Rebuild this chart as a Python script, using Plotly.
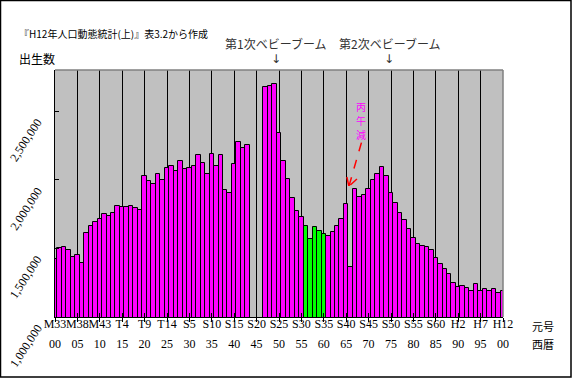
import plotly.graph_objects as go

# ---- data ----
years = list(range(1900, 2001))
births = [
    1421000, 1502000, 1511000, 1490000, 1440000, 1453000, 1394000, 1614000, 1663000, 1694000,  # 1900-09
    1713000, 1748000, 1738000, 1757000, 1808000, 1799000, 1805000, 1812000, 1792000, 1779000,  # 1910-19
    2026000, 1991000, 1969000, 2043000, 1999000, 2086000, 2104000, 2061000, 2136000, 2077000,  # 1920-29
    2085000, 2103000, 2183000, 2121000, 2044000, 2191000, 2102000, 2181000, 1928000, 1902000,  # 1930-39
    2116000, 2277000, 2234000, 2254000, None, None, None, 2679000, 2682000, 2697000,           # 1940-49
    2338000, 2138000, 2005000, 1868000, 1770000, 1731000, 1665000, 1567000, 1653000, 1626000,  # 1950-59
    1606000, 1589000, 1619000, 1660000, 1717000, 1824000, 1361000, 1936000, 1872000, 1890000,  # 1960-69
    1934000, 2001000, 2039000, 2092000, 2030000, 1901000, 1833000, 1755000, 1709000, 1643000,  # 1970-79
    1577000, 1529000, 1515000, 1509000, 1490000, 1432000, 1383000, 1347000, 1314000, 1247000,  # 1980-89
    1222000, 1223000, 1209000, 1188000, 1238000, 1187000, 1207000, 1192000, 1203000, 1178000,  # 1990-99
    1191000,                                                                                     # 2000
]
green_years = [1956, 1957, 1958, 1959, 1960]

tick_years = list(range(1900, 2001, 5))
era_labels = ["M33", "M38", "M43", "T4", "T9", "T14", "S5", "S10", "S15", "S20", "S25",
              "S30", "S35", "S40", "S45", "S50", "S55", "S60", "H2", "H7", "H12"]
year_labels = ["00", "05", "10", "15", "20", "25", "30", "35", "40", "45", "50",
               "55", "60", "65", "70", "75", "80", "85", "90", "95", "00"]
y_ticks = [1000000, 1500000, 2000000, 2500000]

# ---- figure ----
MAGENTA = "#FF00FF"
GREEN = "#00FF00"
colors = [GREEN if y in green_years else MAGENTA for y in years]

SERIF = "Liberation Serif"
JP = "Noto Sans CJK JP"

fig = go.Figure()
fig.add_trace(go.Bar(
    x=years, y=births, width=1,
    marker=dict(color=colors, line=dict(color="black", width=1)),
    showlegend=False, hoverinfo="x+y",
))
# dummy trace so the second (label) axis is drawn
fig.add_trace(go.Scatter(x=[years[0]], y=[None], xaxis="x2", showlegend=False, hoverinfo="skip"))

L, R, T, B = 55, 69, 70, 61
W, H = 572, 378
pw, ph = W - L - R, H - T - B

fig.update_layout(
    width=W, height=H,
    margin=dict(l=L, r=R, t=T, b=B, pad=0, autoexpand=False),
    paper_bgcolor="white", plot_bgcolor="#C0C0C0",
    bargap=0,
    xaxis=dict(
        range=[1900, 2000], tickmode="array", tickvals=tick_years, ticktext=era_labels,
        showgrid=True, gridcolor="black", gridwidth=1, zeroline=False,
        showline=True, linecolor="black", linewidth=1,
        ticks="outside", ticklen=4, tickcolor="black", tickwidth=1,
        tickfont=dict(family=SERIF, size=12, color="black"), tickangle=0,
        ticklabelstandoff=-8, automargin=False,
    ),
    xaxis2=dict(
        range=[1900, 2000], overlaying="x", anchor="y", side="bottom",
        tickmode="array", tickvals=tick_years, ticktext=year_labels,
        showgrid=False, zeroline=False, showline=False,
        ticks="inside", ticklen=4, tickcolor="black", tickwidth=1,
        tickfont=dict(family=SERIF, size=12, color="black"), tickangle=0,
        ticklabelstandoff=18, automargin=False,
    ),
    yaxis=dict(
        range=[1000000, 2800000], tickmode="array", tickvals=y_ticks,
        showticklabels=False,
        showgrid=False, zeroline=False,
        showline=True, linecolor="black", linewidth=1,
        ticks="inside", ticklen=4, tickcolor="black", tickwidth=1,
        automargin=False,
    ),
    font=dict(family=JP, color="black"),
)

shapes = [
    # plot border top / right (grey)
    dict(type="line", xref="paper", yref="paper", x0=0, x1=1, y0=1, y1=1,
         line=dict(color="#808080", width=1.5), layer="above"),
    dict(type="line", xref="paper", yref="paper", x0=1, x1=1, y0=0, y1=1,
         line=dict(color="#808080", width=1.5), layer="above"),
    # outer frame
    dict(type="rect", xref="paper", yref="paper",
         x0=-(L - 0.5) / pw, x1=(W - L - 1) / pw,
         y0=-(B - 1) / ph, y1=1 + (T - 0.5) / ph,
         line=dict(color="black", width=1.5), fillcolor="rgba(0,0,0,0)", layer="above"),
]
# red dashed arrow pointing at the 1966 dip
red = dict(color="#FF0000", width=1.5, dash="dash")
tip = (1965.6, 1952000)
shapes += [
    dict(type="line", xref="x", yref="y", x0=1968.4, y0=2271000, x1=tip[0], y1=tip[1], line=red, layer="above"),
    dict(type="line", xref="x", yref="y", x0=1965.15, y0=2020000, x1=tip[0], y1=tip[1], line=red, layer="above"),
    dict(type="line", xref="x", yref="y", x0=1967.4, y0=2006000, x1=tip[0], y1=tip[1], line=red, layer="above"),
]
fig.update_layout(shapes=shapes)

def px_x(px):
    return (px - L) / pw

def px_y(py):
    return (H - B - py) / ph

ARROW_FONT = dict(family="DejaVu Sans", size=12, color="#333333")
annos = [
    dict(text="『H12年人口動態統計(上)』表3.2から作成", xref="paper", yref="paper",
         x=px_x(17), y=px_y(34), xanchor="left", yanchor="middle",
         font=dict(family=JP, size=10, color="black")),
    dict(text="出生数", xref="paper", yref="paper",
         x=px_x(17), y=px_y(58), xanchor="left", yanchor="middle",
         font=dict(family=JP, size=12, color="black")),
    dict(text="第1次ベビーブーム", xref="x", yref="paper", x=1949.3, y=px_y(44),
         xanchor="center", yanchor="middle", font=dict(family=JP, size=12, color="#333333")),
    dict(text="↓", xref="x", yref="paper", x=1949.4, y=px_y(59),
         xanchor="center", yanchor="middle", font=ARROW_FONT),
    dict(text="第2次ベビーブーム", xref="x", yref="paper", x=1974.7, y=px_y(44),
         xanchor="center", yanchor="middle", font=dict(family=JP, size=12, color="#333333")),
    dict(text="↓", xref="x", yref="paper", x=1974.5, y=px_y(59),
         xanchor="center", yanchor="middle", font=ARROW_FONT),
    dict(text="元号", xref="paper", yref="paper", x=px_x(543), y=px_y(326),
         xanchor="center", yanchor="middle", font=dict(family=JP, size=11, color="black")),
    dict(text="西暦", xref="paper", yref="paper", x=px_x(543), y=px_y(344),
         xanchor="center", yanchor="middle", font=dict(family=JP, size=11, color="black")),
]
# vertical note 丙午減, one character per line
for i, ch in enumerate("丙午減"):
    annos.append(dict(text=ch, xref="x", yref="paper", x=1968.4, y=px_y(106 + 14 * i),
                      xanchor="center", yanchor="middle",
                      font=dict(family=JP, size=10, color="#FF00FF")))
# rotated y-axis value labels, placed at the axis tick values
for v in y_ticks:
    annos.append(dict(text=f"{v:,}", xref="paper", yref="y", x=px_x(26), y=v, yshift=-29,
                      xanchor="center", yanchor="middle", textangle=-57,
                      font=dict(family=SERIF, size=12, color="black")))
for a in annos:
    a["showarrow"] = False
fig.update_layout(annotations=annos)

fig.write_html("out.html",
               config={"displayModeBar": False},
               post_script="document.body.style.margin='0';document.body.style.overflow='hidden';")
